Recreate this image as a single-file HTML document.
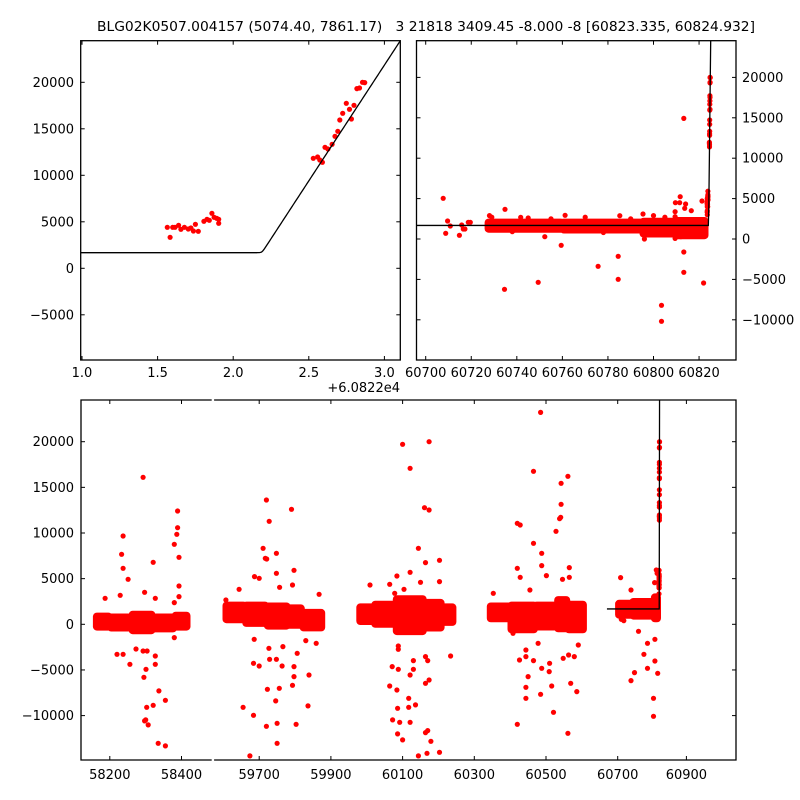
<!DOCTYPE html>
<html><head><meta charset="utf-8"><style>
html,body{margin:0;padding:0;background:#fff;}
svg{display:block;font-family:"DejaVu Sans","Liberation Sans",sans-serif;}
</style></head><body>
<svg id="chart" width="800" height="800" viewBox="0 0 800 800" xmlns="http://www.w3.org/2000/svg">
<rect width="800" height="800" fill="#fff"/>
<text x="97" y="31" font-size="13" textLength="658" lengthAdjust="spacingAndGlyphs" xml:space="preserve">BLG02K0507.004157 (5074.40, 7861.17)   3 21818 3409.45 -8.000 -8 [60823.335, 60824.932]</text>
<defs>
<clipPath id="cTL"><rect x="80.7" y="40.7" width="319.6" height="319.3"/></clipPath>
<clipPath id="cTR"><rect x="416.5" y="40.7" width="319.5" height="319.3"/></clipPath>
<clipPath id="cB1"><rect x="81" y="400" width="130.7" height="360"/></clipPath>
<clipPath id="cB2"><rect x="214.1" y="400" width="521.9" height="360"/></clipPath>
</defs>
<g id="layer"></g>
</svg>
<script>
// ---- Data: zoom-in rise points (days since 60822, flux) ----
const riseT=[1.564,1.583,1.600,1.615,1.639,1.654,1.677,1.703,1.720,1.737,1.750,1.769,1.806,1.827,1.842,1.859,1.874,1.891,1.904,1.904,2.530,2.558,2.573,2.590,2.607,2.626,2.654,2.673,2.692,2.705,2.724,2.748,2.769,2.782,2.799,2.818,2.835,2.855,2.870];
const riseF=[4408,3333,4408,4408,4623,4193,4408,4229,4337,4014,4731,3978,5053,5268,5161,5914,5484,5376,4838,5268,11827,11971,11648,11397,13010,12831,13332,14193,14730,15949,16666,17741,17096,16056,17526,19318,19390,19999,19963];
// model parameters
const modelBase=1680, modelKink=2.19, modelSlope=24900, modelOffset=60822;
// ---- Top-right: dense core segments [start,end,lo,hi] ----
const trCoreStart=[60727,60760,60795,60810];
const trCoreEnd=[60760,60795,60810,60823];
const trCoreLo=[1100,1000,500,300];
const trCoreHi=[2200,2200,2300,2400];
const trT=[60707.7,60708.8,60709.6,60710.8,60714.8,60715.8,60716.5,60717.2,60718.7,60719.6,60734.8,60734.6,60741.7,60749.4,60752.3,60759.5,60761.2,60775.7,60784.5,60784.5,60785.2,60795.4,60803.5,60803.5,60811.7,60809.6,60811.5,60813.3,60813.3,60813.3,60813.7,60814.1,60816.6,60821.3,60822.0,60823.6,60823.6,60823.6,60823.6,60823.6,60809.5,60809.5,60809.5,60809.5,60812,60814,60817,60728,60729,60745,60770,60790,60800,60738,60755,60778,60796,60805];
const trF=[5031,701,2227,1608,454,1732,1237,1237,2062,2062,3670,-6227,2681,-5361,289,-784,2928,-3382,-2144,-4990,2887,3093,-8207,-10186,5237,4495,4495,14929,-1608,-4124,3794,4330,3505,4701,-5444,5000,4500,4000,3500,3000,3380,2760,700,80,290,500,620,2900,2700,2600,2700,2500,2900,900,2500,800,0,2700];
// ---- Bottom: seasons core segments ----
const bCoreStart=[58160,58200,58260,58320,58380,59605,59660,59720,59780,59820,59978,60020,60080,60160,60210,60342,60400,60470,60530,60560,60700,60740,60800];
const bCoreEnd=[58200,58260,58320,58380,58418,59660,59720,59780,59820,59877,60020,60080,60160,60210,60243,60400,60470,60530,60560,60607,60740,60800,60822];
const bCoreLo=[-400,-500,-800,-600,-400,400,0,-300,-200,-500,200,-100,-900,-500,100,500,-700,-400,-600,-700,900,800,500];
const bCoreHi=[1000,900,1200,900,1100,2200,2200,2100,1900,1400,2000,2300,2900,2500,2000,2100,2200,2200,2800,2300,2400,2600,3100];
const bT=[58237,58233,58237,58251,58229,58187,58293,58321,58297,58327,58389,58389,58387,58380,58393,58393,58393,58380,58273,58220,58237,58256,58293,58304,58301,58327,58327,58295,58303,58321,58300,58297,58307,58337,58355,58335,58355,58380,
59720,59728,59790,59748,59717,59721,59711,59797,59687,59700,59748,59757,59793,59867,59644,59607,59611,59686,59727,59729,59748,59764,59797,59797,59830,59839,59859,59684,59700,59655,59684,59723,59756,59746,59793,59836,59750,59720,59803,59750,59674,59766,59806,
60100,60174,60121,60161,60174,60144,60203,60164,60121,60084,60009,60203,60150,60064,60104,60078,60234,60071,60088,60130,60130,60121,60164,60170,60174,60088,60088,60064,60084,60117,60136,60086,60117,60072,60092,60121,60086,60100,60164,60170,60179,60144,60168,60203,60164,
60485,60465,60561,60542,60542,60541,60538,60420,60428,60528,60465,60488,60488,60565,60420,60501,60428,60546,60565,60353,60455,60478,60444,60444,60426,60465,60488,60510,60509,60548,60563,60579,60590,60450,60444,60444,60516,60569,60586,60485,60521,60420,60561,60408,
60708,60737,60710,60717,60758,60783,60773,60747,60737,60783,60812,60820,60812,60800,60800,60803,60810,60816];
const bF=[9672,7665,6132,4928,3175,2847,16096,6789,3504,2847,12410,10585,9855,8760,7336,4197,3029,2372,-2701,-3285,-3285,-4380,-2920,-2920,-4928,-3468,-4380,-5804,-9088,-8870,-10476,-10585,-11023,-7300,-8322,-13031,-13323,-1460,
13615,11278,12593,7775,7227,7154,8322,5913,5220,5037,5585,4052,4307,3285,3833,2665,1752,-1643,-2628,-3833,-3833,-4563,-4636,-5731,-1789,-5548,-2081,-4270,-4563,-9088,-9964,-7118,-7008,-8395,-6680,-8943,-10841,-11169,-10950,-13031,-14418,-2445,-3175,
19710,20002,17082,12775,12520,8322,7008,6753,5694,5293,4307,4672,4599,4380,3833,3395,-3468,-4636,-4928,-3979,-4928,-5548,-3541,-3979,-6096,-2373,-2738,-6753,-7191,-8103,-8833,-9198,-9088,-10476,-10731,-10731,-12009,-12666,-11863,-11644,-12812,-14418,-14126,-14016,-6461,
23214,16753,16206,15440,13140,11716,11570,11059,10877,10183,8869,7774,6424,6205,6132,5329,5146,4927,5146,3394,3760,-2080,-2810,-3540,-3905,-3979,-4818,-4270,-5183,-3723,-3358,-3540,-2263,-5731,-6899,-8103,-6753,-6461,-7373,-7665,-9636,-10950,-11936,-986,
5110,3760,547,402,-767,-2081,-3285,-5293,-6168,-4818,-1643,-5366,-4015,-8103,-10074,4562,5585,5950];
// tick labels
const tlXTicks=[1.0,1.5,2.0,2.5,3.0];
const tlYTicks=[20000,15000,10000,5000,0,-5000];
const trXTicks=[60700,60720,60740,60760,60780,60800,60820];
const trYTicks=[20000,15000,10000,5000,0,-5000,-10000];
const bXTicks=[58200,58400,59700,59900,60100,60300,60500,60700,60900];
const bYTicks=[20000,15000,10000,5000,0,-5000,-10000];

// ---- scales ----
const tlX=t=>82+(t-1.0)*151.2, tlY=f=>268.3-f*0.0093;
const trX=t=>425.7+(t-60700)*2.278, trY=f=>239-f*0.00808;
const bX=t=>t<59000?109.8+(t-58200)*0.3585:259.2+(t-59700)*0.3585-(t>60810?3:0);
const bY=f=>624.3-f*0.00913;
function model(dt){const w=0.006;const z=(dt-modelKink)/w;const sp=z>30?z:Math.log(1+Math.exp(z));return modelBase+modelSlope*w*sp;}

const NS='http://www.w3.org/2000/svg';
const layer=document.getElementById('layer');
function mk(tag,attrs,parent){const e=document.createElementNS(NS,tag);for(const k in attrs)e.setAttribute(k,attrs[k]);(parent||layer).appendChild(e);return e;}
const fmt=v=>(v<0?'\u2212'+Math.abs(v):String(v));

function panel(name,clip){const g=mk('g',{'clip-path':'url(#'+clip+')'});return g;}
function dots(g,xs,ys,X,Y,nm){for(let i=0;i<xs.length;i++){const c=mk('circle',{cx:X(xs[i]).toFixed(1),cy:Y(ys[i]).toFixed(1),r:2.6,fill:'#ff0000'},g);}}
function cores(g,s,e,lo,hi,X,Y,nm){for(let i=0;i<s.length;i++){const x1=X(s[i])-2.6,x2=X(e[i])+2.6,y1=Y(hi[i])-2.6,y2=Y(lo[i])+2.6;const r=mk('rect',{x:x1.toFixed(1),y:y1.toFixed(1),width:(x2-x1).toFixed(1),height:(y2-y1).toFixed(1),rx:4,fill:'#ff0000'},g);}}
function modelLine(g,t0,t1,X,Y,off){let d='';const n=600;for(let i=0;i<=n;i++){const t=t0+(t1-t0)*i/n;d+=(i?'L':'M')+X(t).toFixed(2)+','+Y(model(t-off)).toFixed(2);}const p=mk('path',{d:d,fill:'none',stroke:'#000','stroke-width':1.3},g);}

// Top-left
const gTL=panel('zoom-panel-plot','cTL');
dots(gTL,riseT,riseF,tlX,tlY,'data-point');
modelLine(gTL,0.9,3.2,tlX,tlY,0);
// Top-right
const gTR=panel('recent-panel-plot','cTR');
cores(gTR,trCoreStart,trCoreEnd,trCoreLo,trCoreHi,trX,trY,'dense-points');
dots(gTR,trT,trF,trX,trY,'data-point');
dots(gTR,riseT.map(v=>v+modelOffset),riseF,trX,trY,'data-point');
modelLine(gTR,60690,60825.2,trX,trY,modelOffset);
// Bottom
for(const [clip,seg] of [['cB1','left'],['cB2','right']]){
  const g=panel('full-lightcurve-'+seg,clip);
  cores(g,bCoreStart,bCoreEnd,bCoreLo,bCoreHi,bX,bY,'dense-points');
  dots(g,bT,bF,bX,bY,'data-point');
  dots(g,riseT.map(v=>v+modelOffset),riseF,bX,bY,'data-point');
  if(seg==='right') modelLine(g,60670,60825.2,bX,bY,modelOffset);
}

// axes frames and ticks
function frame(x1,y1,x2,y2,nm){const r=mk('rect',{x:x1,y:y1,width:x2-x1,height:y2-y1,fill:'none',stroke:'#000','stroke-width':1.3});}
function xt(vals,X,y1,y2,ly,labels){for(const v of vals){const x=X(v);mk('line',{x1:x,x2:x,y1:y2,y2:y2-4,stroke:'#000','stroke-width':1});mk('line',{x1:x,x2:x,y1:y1,y2:y1+4,stroke:'#000','stroke-width':1});const t=mk('text',{x:x,y:ly,'font-size':13,'text-anchor':'middle'});t.textContent=labels?labels(v):fmt(v);}}
function yt(vals,Y,x1,x2,lx,anchor){for(const v of vals){const y=Y(v);mk('line',{x1:x1,x2:x1+4,y1:y,y2:y,stroke:'#000','stroke-width':1});mk('line',{x1:x2,x2:x2-4,y1:y,y2:y,stroke:'#000','stroke-width':1});const t=mk('text',{x:lx,y:y+4.5,'font-size':13,'text-anchor':anchor});t.textContent=fmt(v);}}

frame(80.7,40.7,400.3,360,'zoom-panel-frame');
xt(tlXTicks,tlX,40.7,360,377,v=>v.toFixed(1));
yt(tlYTicks,tlY,80.7,400.3,74,'end');
const off=mk('text',{x:400,y:392,'font-size':13,'text-anchor':'end'});off.textContent='+6.0822e4';



frame(416.5,40.7,736,360,'recent-panel-frame');
xt(trXTicks,trX,40.7,360,377);
yt(trYTicks,trY,416.5,736,742,'start');

// bottom frame with break
const bf=mk('path',{d:'M211.7,400 L81,400 L81,760 L211.7,760 M214.1,400 L736,400 L736,760 L214.1,760',fill:'none',stroke:'#000','stroke-width':1.3});


xt(bXTicks,bX,400,760,779);
yt(bYTicks,bY,81,736,74,'end');
</script>
</body></html>
